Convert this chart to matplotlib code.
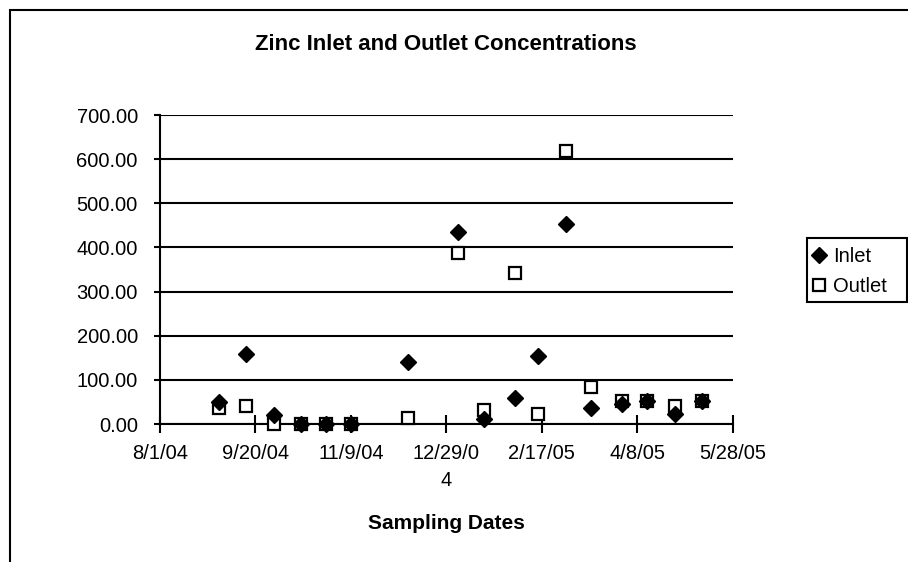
import datetime as dt
import matplotlib
matplotlib.use('Agg')
import matplotlib.pyplot as plt
import matplotlib.patches as patches

plt.rcParams['font.family'] = ['Liberation Sans', 'DejaVu Sans']

# sampling dates and zinc concentrations
dates = ['2004-09-01', '2004-09-15', '2004-09-30', '2004-10-14', '2004-10-27',
         '2004-11-09', '2004-12-09', '2005-01-04', '2005-01-18', '2005-02-03',
         '2005-02-15', '2005-03-02', '2005-03-15', '2005-03-31', '2005-04-13',
         '2005-04-28', '2005-05-12']
inlet = [50, 158, 20, 0, 0, 0, 140, 436, 11, 60, 153, 452, 36, 46, 53, 23, 53]
outlet = [36, 41, 0, 0, 0, 0, 13, 387, 32, 341, 23, 618, 83, 52, 52, 41, 52]

tick_dates = ['2004-08-01', '2004-09-20', '2004-11-09', '2004-12-29',
              '2005-02-17', '2005-04-08', '2005-05-28']
tick_labels = ['8/1/04', '9/20/04', '11/9/04', '12/29/0\n4', '2/17/05', '4/8/05', '5/28/05']
y_ticks = [0, 100, 200, 300, 400, 500, 600, 700]

x = [dt.datetime.strptime(d, '%Y-%m-%d') for d in dates]
xt = [dt.datetime.strptime(d, '%Y-%m-%d') for d in tick_dates]

W, H = 908, 562
fig = plt.figure(figsize=(W / 100, H / 100), dpi=100)
ax = fig.add_axes([160 / W, 1 - 424 / H, (732.5 - 160) / W, (424 - 115) / H])

# outer chart frame (runs off the right and bottom of the picture)
fig.patches.append(patches.Rectangle((10 / W, -0.1), 1.2, 1 - 10 / H + 0.1,
                                     transform=fig.transFigure, fill=False,
                                     edgecolor='black', linewidth=1.5))

ax.plot(x, outlet, linestyle='none', marker='s', markersize=8.5,
        markerfacecolor='white', markeredgecolor='black', markeredgewidth=1.6,
        label='Outlet', zorder=3, clip_on=False)
ax.plot(x, inlet, linestyle='none', marker='D', markersize=7.8,
        color='black', label='Inlet', zorder=4, clip_on=False)

ax.set_xlim(xt[0], xt[-1])
ax.set_ylim(0, 700)
ax.set_xticks(xt)
ax.set_xticklabels(tick_labels, fontsize=14.5, linespacing=1.55, va='top')
ax.set_yticks(y_ticks)
ax.set_yticklabels(['%.2f' % v for v in y_ticks], fontsize=14.5)
ax.yaxis.grid(True, color='black', linewidth=1.5)
ax.set_axisbelow(True)

for s in ['top', 'right']:
    ax.spines[s].set_visible(False)
for s in ['left', 'bottom']:
    ax.spines[s].set_linewidth(1.5)
ax.tick_params(axis='y', direction='out', length=4, width=1.5, pad=12)
ax.tick_params(axis='x', direction='inout', length=13, width=1.5, pad=8)

ax.set_xlabel('Sampling Dates', fontsize=15, fontweight='bold', labelpad=17)
fig.text(446 / W, 1 - 44 / H, 'Zinc Inlet and Outlet Concentrations',
         ha='center', va='center', fontsize=16, fontweight='bold')

# legend box drawn separately so it keeps the wide Excel-style frame
fig.patches.append(patches.Rectangle((807 / W, 1 - 302 / H), 100 / W, 64 / H,
                                     transform=fig.transFigure, fill=False,
                                     edgecolor='black', linewidth=1.5))
h, l = ax.get_legend_handles_labels()
leg = fig.legend([h[1], h[0]], [l[1], l[0]], loc='upper left',
                 bbox_to_anchor=(807 / W, 1 - 243 / H), fontsize=14.5,
                 frameon=False, handlelength=0.75, handletextpad=0.35,
                 borderpad=0.2, labelspacing=0.55, borderaxespad=0)

fig.savefig('out.png', dpi=100)
